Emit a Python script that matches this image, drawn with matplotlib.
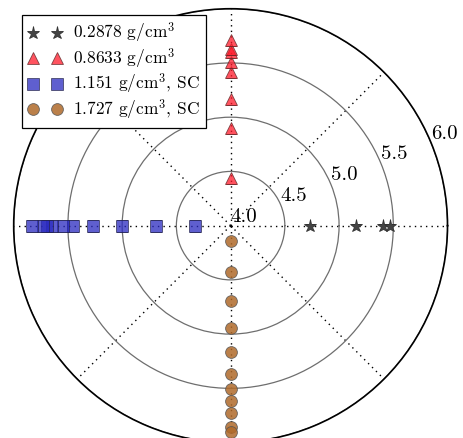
import numpy as np
import matplotlib
matplotlib.use('Agg')
import matplotlib.pyplot as plt

plt.rcParams['font.family'] = ['cmr10', 'DejaVu Serif']
plt.rcParams['mathtext.fontset'] = 'cm'
plt.rcParams['axes.formatter.use_mathtext'] = True

# radial values, one direction per density
r_star = [4.734, 5.155, 5.401, 5.468]
r_tri = [4.440, 4.900, 5.168, 5.417, 5.509, 5.601, 5.629, 5.711]
r_sq = [4.329, 4.691, 4.999, 5.266, 5.451, 5.543, 5.650, 5.696, 5.733, 5.834]
r_circ = [4.141, 4.430, 4.694, 4.940, 5.161, 5.367, 5.505, 5.613, 5.724, 5.853, 5.899]

labels = ['0.2878 g/cm$^3$', '0.8633 g/cm$^3$',
          '1.151 g/cm$^3$, SC', '1.727 g/cm$^3$, SC']
rticks = [4.0, 4.5, 5.0, 5.5, 6.0]

fig = plt.figure(figsize=(4.64, 4.38), dpi=100)
ax = fig.add_axes([0.0295, -0.0107, 0.935, 0.991], projection='polar')

ax.plot(np.zeros(len(r_star)), r_star, ls='none', marker='*', ms=9.5,
        color='#444444', mec='#333333', mew=0.6, label=labels[0])
ax.plot(np.full(len(r_tri), np.pi / 2), r_tri, ls='none', marker='^', ms=9,
        color='#ff1a2a', alpha=0.75, mec='#552222', mew=0.6, label=labels[1])
ax.plot(np.full(len(r_sq), np.pi), r_sq, ls='none', marker='s', ms=8,
        color='#2a2ac0', alpha=0.75, mec='#222244', mew=0.6, label=labels[2])
ax.plot(np.full(len(r_circ), 3 * np.pi / 2), r_circ, ls='none', marker='o', ms=8.5,
        color='#b06a2a', alpha=0.85, mec='#555555', mew=0.6, label=labels[3])

ax.set_rlim(4.0, 6.0)
ax.set_rticks(rticks)
ax.set_yticklabels(['%.1f' % t for t in rticks], fontsize=15)
ax.set_rlabel_position(22.5)
ax.set_xticks(np.deg2rad(np.arange(0, 360, 45)))
ax.set_xticklabels([])
ax.xaxis.grid(True, color='black', linestyle=(0, (1, 3)), linewidth=1.0)
ax.yaxis.grid(True, color='#6e6e6e', linestyle='-', linewidth=0.9)
ax.spines['polar'].set_color('black')
ax.spines['polar'].set_linewidth(1.2)

leg = ax.legend(loc='upper left', bbox_to_anchor=(0.047, 0.966),
                bbox_transform=fig.transFigure, numpoints=2, fontsize=12.5,
                fancybox=False, edgecolor='black', framealpha=1,
                handlelength=2.0, handletextpad=0.6, borderpad=0.35,
                labelspacing=0.08, borderaxespad=0)
leg.get_frame().set_linewidth(0.9)

fig.savefig('out.png', dpi=100)
